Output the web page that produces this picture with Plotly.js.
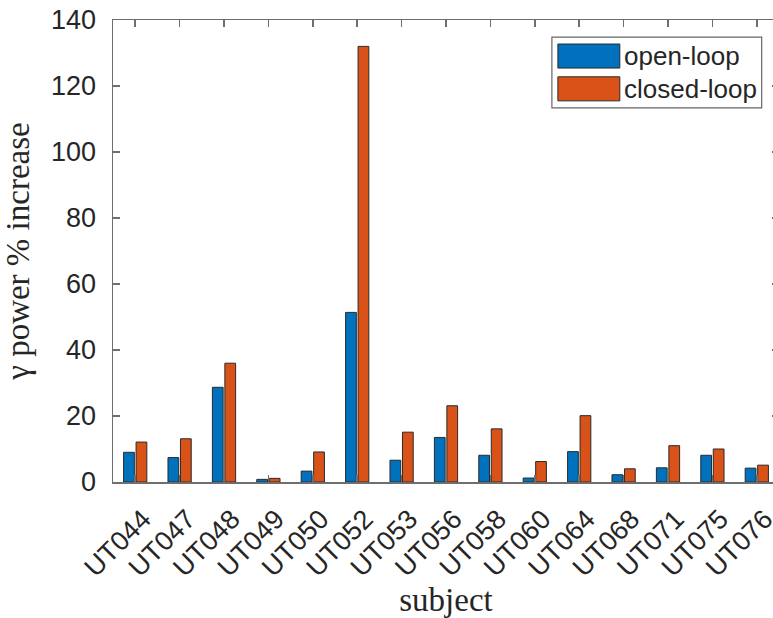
<!DOCTYPE html>
<html>
<head>
<meta charset="utf-8">
<script src="https://cdn.plot.ly/plotly-3.0.1.min.js"></script>
<style>
  html, body { margin: 0; padding: 0; overflow: hidden; background: #fff; }
  #chart { width: 800px; height: 618px; }
</style>
</head>
<body>
<div id="chart"></div>
<script>
// Gamma-band power increase per subject, open-loop vs closed-loop stimulation
const subjects = ['UT044', 'UT047', 'UT048', 'UT049', 'UT050', 'UT052', 'UT053', 'UT056',
                  'UT058', 'UT060', 'UT064', 'UT068', 'UT071', 'UT075', 'UT076'];
const openLoop   = [9.0, 7.4, 28.7, 0.8, 3.3, 51.4, 6.6, 13.5, 8.1, 1.2, 9.2, 2.2, 4.3, 8.1, 4.2];
const closedLoop = [12.1, 13.1, 36.0, 1.1, 9.1, 132.0, 15.1, 23.1, 16.1, 6.2, 20.1, 4.0, 11.0, 10.0, 5.1];
const seriesNames = ['open-loop', 'closed-loop'];
const seriesColors = ['#0072BD', '#D95319'];
const yTicks = [0, 20, 40, 60, 80, 100, 120, 140];

const barLine = { color: '#2a2a2a', width: 1 };
const traces = [
  { type: 'bar', x: subjects, y: openLoop, name: seriesNames[0],
    marker: { color: seriesColors[0], line: barLine }, showlegend: false },
  { type: 'bar', x: subjects, y: closedLoop, name: seriesNames[1],
    marker: { color: seriesColors[1], line: barLine }, showlegend: false }
];

// Legend drawn as a framed box with wide colour swatches
const L = { x0: 0.659, x1: 0.974, y0: 0.810, y1: 0.963, sx0: 0.668, sx1: 0.761, tx: 0.764 };
const rows = [{ y0: 0.896, y1: 0.948, ty: 0.922 }, { y0: 0.825, y1: 0.877, ty: 0.851 }];
const shapes = [
  { type: 'rect', xref: 'paper', yref: 'paper', x0: L.x0, x1: L.x1, y0: L.y0, y1: L.y1,
    line: { color: '#666', width: 1.2 }, fillcolor: '#fff', layer: 'above' }
];
const annotations = [];
rows.forEach((r, i) => {
  shapes.push({ type: 'rect', xref: 'paper', yref: 'paper', x0: L.sx0, x1: L.sx1, y0: r.y0, y1: r.y1,
    line: { color: '#2a2a2a', width: 1 }, fillcolor: seriesColors[i], layer: 'above' });
  annotations.push({ xref: 'paper', yref: 'paper', x: L.tx, y: r.ty, xanchor: 'left', yanchor: 'middle',
    text: seriesNames[i], showarrow: false,
    font: { family: 'Liberation Sans, Arial, sans-serif', size: 26, color: '#262626' } });
});

const tickFont = { family: 'Liberation Sans, Arial, sans-serif', size: 27, color: '#262626' };
const titleFont = { family: 'Liberation Serif, Times New Roman, serif', size: 33, color: '#262626' };

const layout = {
  width: 800, height: 618,
  margin: { l: 113, r: 21, t: 20, b: 136 },
  paper_bgcolor: '#fff', plot_bgcolor: '#fff',
  barmode: 'group', bargap: 0.437, bargroupgap: 0.14,
  xaxis: {
    type: 'category', range: [-0.5, 14.5],
    showline: true, linecolor: '#6e6e6e', linewidth: 1.5, mirror: 'ticks',
    ticks: 'inside', ticklen: 7, tickcolor: '#6e6e6e', tickwidth: 1.5,
    tickangle: -45, tickfont: tickFont, ticklabelstandoff: 9, ticklabelshift: 8,
    showgrid: false, zeroline: false, automargin: false,
    title: { text: 'subject', font: titleFont, standoff: 0 }
  },
  yaxis: {
    range: [0, 140], tickvals: yTicks, ticktext: yTicks.map(String),
    showline: true, linecolor: '#6e6e6e', linewidth: 1.5, mirror: 'ticks',
    ticks: 'inside', ticklen: 7, tickcolor: '#6e6e6e', tickwidth: 1.5,
    tickfont: tickFont, ticklabelstandoff: 10,
    showgrid: false, zeroline: false, automargin: false,
    title: { text: 'γ power % increase', font: titleFont, standoff: 16 }
  },
  shapes: shapes,
  annotations: annotations
};

Plotly.newPlot('chart', traces, layout, { staticPlot: true, displayModeBar: false });
</script>
</body>
</html>
